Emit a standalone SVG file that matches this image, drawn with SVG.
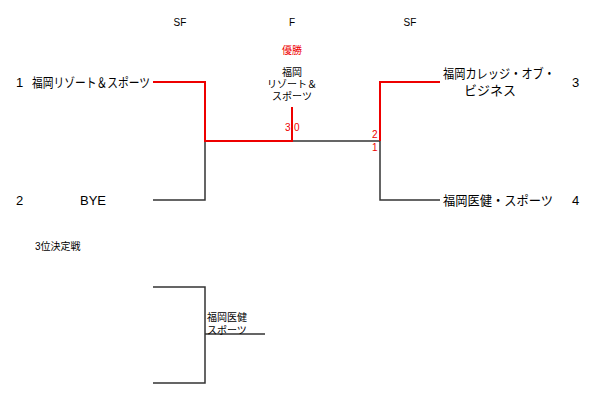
<svg xmlns="http://www.w3.org/2000/svg" width="600" height="401" viewBox="0 0 600 401">
<style>
text{font-family:"Liberation Sans","Noto Sans CJK JP",sans-serif;fill:#000}
.s{font-size:10px}.t{font-size:13px}.r{fill:#e00}
.k{stroke:#333;stroke-width:1.5;fill:none}.w{stroke:#e00;stroke-width:2;fill:none}
</style>
<rect width="600" height="401" fill="#fff"/>
<g id="headers" class="s" text-anchor="middle">
<text x="180" y="26">SF</text><text x="292" y="26">F</text><text x="410" y="26">SF</text>
</g>
<g id="connectors">
<path class="k" d="M153 200H205V141H380M380 141V200H440"/>
<path class="w" d="M153 82H205V141H292V107"/>
<path class="w" d="M380 141V82H440"/>
<path class="k" d="M153 287H205V383H153M205 334H265"/>
</g>
<g id="team1"><text class="t" x="16" y="87">1</text><text class="t" x="32" y="87" textLength="118" lengthAdjust="spacingAndGlyphs">福岡リゾート＆スポーツ</text></g>
<g id="team2"><text class="t" x="16" y="205">2</text><text class="t" x="93" y="205" text-anchor="middle">BYE</text></g>
<g id="team3"><text class="t" x="572" y="87">3</text><text class="t" x="443" y="78" textLength="112" lengthAdjust="spacingAndGlyphs">福岡カレッジ・オブ・</text><text class="t" x="490" y="95" text-anchor="middle">ビジネス</text></g>
<g id="team4"><text class="t" x="572" y="205">4</text><text class="t" x="443" y="205" textLength="110" lengthAdjust="spacingAndGlyphs">福岡医健・スポーツ</text></g>
<g id="champion" class="s" text-anchor="middle">
<text class="r" x="292" y="54">優勝</text>
<text x="292" y="76">福岡</text><text x="292" y="88">リゾート＆</text><text x="292" y="100">スポーツ</text>
</g>
<g id="scores" class="s">
<text class="r" x="285" y="131">3</text><text class="r" x="294" y="131">0</text>
<text class="r" x="372" y="138">2</text><text class="r" x="372" y="151">1</text>
</g>
<g id="third" class="s">
<text x="35" y="250">3位決定戦</text>
<text x="207" y="321">福岡医健</text><text x="207" y="334">スポーツ</text>
</g>
</svg>
